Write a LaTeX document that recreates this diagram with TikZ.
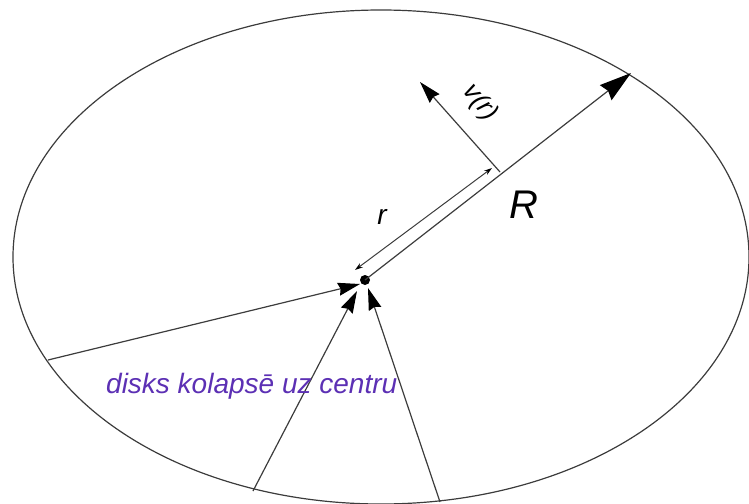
\documentclass[tikz,border=0pt]{standalone}
\usepackage{fontspec}
\setmainfont{Liberation Sans}
\usetikzlibrary{arrows.meta}
\definecolor{linec}{RGB}{60,60,60}
\definecolor{labelpurple}{RGB}{92,48,180}
\tikzset{
  thinline/.style={draw=linec, line width=1.2pt},
  bigtip/.style={-{Stealth[length=32pt,width=19pt,inset=3pt,color=black]}},
  midtip/.style={-{Stealth[length=22pt,width=13pt,inset=2pt,color=black]}},
  smalltips/.style={{Stealth[length=8pt,width=5pt,color=black]}-{Stealth[length=8pt,width=5pt,color=black]}},
  lbl/.style={inner sep=0pt, text=black}
}
\begin{document}
\begin{tikzpicture}[x=1pt,y=-1pt]
\useasboundingbox (0,0) rectangle (749,503);
% disc outline
\draw[thinline] (381,257) ellipse [x radius=368, y radius=247];
% centre
\node[circle, fill=black, inner sep=0pt, minimum size=10pt] (c) at (365,280) {};
% points
\coordinate (Rend) at (631,73);
\coordinate (vstart) at (500,172);
\coordinate (vend) at (420,82);
\coordinate (rlo) at (355,270);
\coordinate (rhi) at (492,168);
\coordinate (pl) at (48,360);
\coordinate (pb1) at (253,491);
\coordinate (pb2) at (440,502);
\coordinate (tl) at (360,284);
\coordinate (tb1) at (357,291);
\coordinate (tb2) at (368,288);
% radius R
\draw[thinline, bigtip] (c.center) -- (Rend);
% r
\draw[thinline, line width=1pt, smalltips] (rlo) -- (rhi);
% v(r)
\draw[thinline, midtip] (vstart) -- (vend);
% collapsing arrows
\draw[thinline, midtip] (pl) -- (tl);
\draw[thinline, midtip] (pb1) -- (tb1);
\draw[thinline, midtip] (pb2) -- (tb2);
% labels
\node[lbl, font=\fontsize{40}{44}\selectfont\itshape] (Rlab) at (524,205) {R};
\node[lbl, font=\fontsize{28}{30}\selectfont\itshape] (rlab) at (382,217) {r};
\node[lbl, font=\fontsize{26}{28}\selectfont\itshape, rotate=-52] (vlab) at (480,103) {v(r)};
\node[lbl, anchor=base west, text=labelpurple, font=\fontsize{28}{30}\selectfont\itshape] (txt) at (106,393) {disks kolapsē uz centru};
\end{tikzpicture}
\end{document}
